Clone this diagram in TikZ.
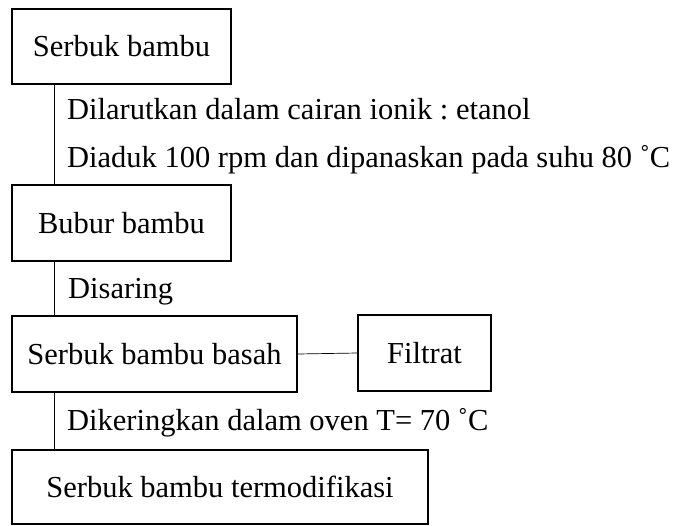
\documentclass[tikz,border=0pt]{standalone}
\usepackage{fontspec}
\setmainfont{Liberation Serif}
\frenchspacing
\begin{document}
\begin{tikzpicture}[x=1pt,y=1pt,
  every node/.style={font=\fontsize{30.5}{36}\selectfont},
  stagebox/.style={draw, line width=1.2pt, inner sep=0pt, align=center},
  link/.style={line width=0.7pt},
  note/.style={anchor=base west, inner sep=0pt}]
\useasboundingbox (0,0) rectangle (679,-525);
% process stages
\node[stagebox, minimum width=219pt, minimum height=75pt] (s1) at (121.5,-46.5) {Serbuk bambu};
\node[stagebox, minimum width=219pt, minimum height=76pt] (s2) at (121.5,-223) {Bubur bambu};
\node[stagebox, minimum width=285pt, minimum height=76pt] (s3) at (154.5,-354) {Serbuk bambu basah};
\node[stagebox, minimum width=133pt, minimum height=76pt] (f) at (424.5,-353) {Filtrat};
\node[stagebox, minimum width=416pt, minimum height=74pt] (s4) at (220,-487) {Serbuk bambu termodifikasi};
% vertical flow line position
\coordinate (spine) at (54,0);
\draw[link] (s1.south -| spine) -- (s2.north -| spine);
\draw[link] (s2.south -| spine) -- (s3.north -| spine);
\draw[link] (s3.south -| spine) -- (s4.north -| spine);
\draw[link] (s3.east) -- (f.west);
% step descriptions
\node[note] (t1) at (67,-119) {Dilarutkan dalam cairan ionik : etanol};
\node[note] (t2) at (67,-167) {Diaduk 100 rpm dan dipanaskan pada suhu 80 ˚C};
\node[note] (t3) at (68,-298) {Disaring};
\node[note] (t4) at (67,-430) {Dikeringkan dalam oven T= 70 ˚C};
\end{tikzpicture}
\end{document}
